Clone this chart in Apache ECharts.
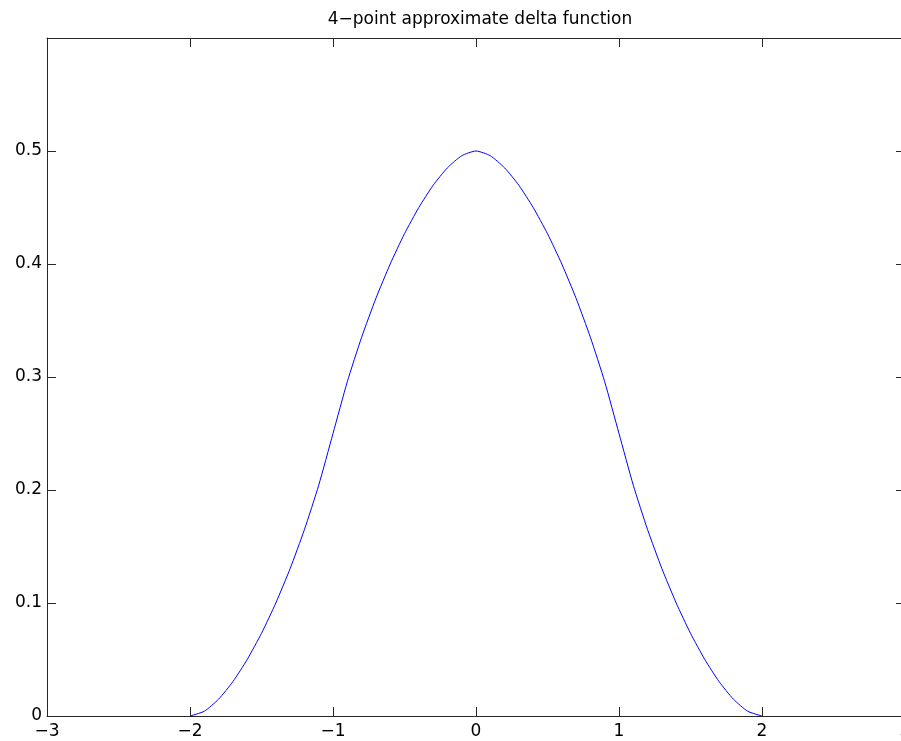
<!DOCTYPE html>
<html>
<head>
<meta charset="utf-8">
<script src="https://cdn.jsdelivr.net/npm/echarts@6/dist/echarts.min.js"></script>
<style>
html,body{margin:0;padding:0;background:#fff;overflow:hidden;}
#chart{width:901px;height:741px;}
</style>
</head>
<body>
<div id="chart"></div>
<script>
const titleText = '4\u2212point approximate delta function';
const xValues = [-2.0,-1.9,-1.8,-1.7,-1.6,-1.5,-1.4,-1.3,-1.2,-1.1,-1.0,-0.9,-0.8,-0.7,-0.6,-0.5,-0.4,-0.3,-0.2,-0.1,0.0,
                 0.1,0.2,0.3,0.4,0.5,0.6,0.7,0.8,0.9,1.0,1.1,1.2,1.3,1.4,1.5,1.6,1.7,1.8,1.9,2.0];
const yValues = [0.0000,0.0042,0.0149,0.0304,0.0500,0.0732,0.1000,0.1304,0.1649,0.2042,0.2500,
                 0.2958,0.3351,0.3696,0.4000,0.4268,0.4500,0.4696,0.4851,0.4958,0.5000,
                 0.4958,0.4851,0.4696,0.4500,0.4268,0.4000,0.3696,0.3351,0.2958,0.2500,
                 0.2042,0.1649,0.1304,0.1000,0.0732,0.0500,0.0304,0.0149,0.0042,0.0000];
const xTicks = [-3,-2,-1,0,1,2,3];
const yTicks = [0,0.1,0.2,0.3,0.4,0.5,0.6];

const font = 'DejaVu Sans, Liberation Sans, Arial, sans-serif';
const fmtX = v => (v < 0 ? '\u2212' + Math.abs(v) : String(v));
const fmtY = v => (Math.abs(v - 0.6) < 1e-9 ? '' : String(Math.round(v * 10) / 10));

const points = xValues.map((x, i) => [x, yValues[i]]);

const axisLine = {show: true, onZero: false, lineStyle: {color: '#262626', width: 1}};
const tick = {show: true, inside: true, length: 9, lineStyle: {color: '#262626', width: 1}};

const chart = echarts.init(document.getElementById('chart'), null, {renderer: 'canvas'});
chart.setOption({
  animation: false,
  backgroundColor: '#fff',
  title: {
    text: titleText,
    left: 475, top: 6, textAlign: 'center',
    textStyle: {fontFamily: font, fontSize: 17, fontWeight: 'normal', color: '#000'}
  },
  grid: {left: 47, right: -4, top: 38, bottom: 25, containLabel: false, outerBoundsMode: 'none'},
  xAxis: [
    {type: 'value', min: xTicks[0], max: xTicks[xTicks.length - 1], interval: 1, position: 'bottom',
     axisLine: axisLine, axisTick: tick, splitLine: {show: false},
     axisLabel: {show: true, showMinLabel: true, showMaxLabel: true, hideOverlap: false,
                 formatter: fmtX, fontFamily: font, fontSize: 17, color: '#000', margin: 7}},
    {type: 'value', min: xTicks[0], max: xTicks[xTicks.length - 1], interval: 1, position: 'top',
     axisLine: axisLine, axisTick: tick, splitLine: {show: false}, axisLabel: {show: false}}
  ],
  yAxis: [
    {type: 'value', min: yTicks[0], max: yTicks[yTicks.length - 1], interval: 0.1, position: 'left',
     axisLine: axisLine, axisTick: tick, splitLine: {show: false},
     axisLabel: {show: true, formatter: fmtY, fontFamily: font, fontSize: 17, color: '#000', margin: 5}},
    {type: 'value', min: yTicks[0], max: yTicks[yTicks.length - 1], interval: 0.1, position: 'right',
     axisLine: {show: true, onZero: false, lineStyle: {color: 'rgba(0,0,0,0)', width: 0}},
     axisTick: tick, splitLine: {show: false}, axisLabel: {show: false}}
  ],
  series: [{
    type: 'line',
    data: points,
    xAxisIndex: 0, yAxisIndex: 0,
    showSymbol: false,
    smooth: 0.2,
    lineStyle: {color: '#0000ff', width: 1},
    itemStyle: {color: '#0000ff'}
  }]
});
</script>
</body>
</html>
